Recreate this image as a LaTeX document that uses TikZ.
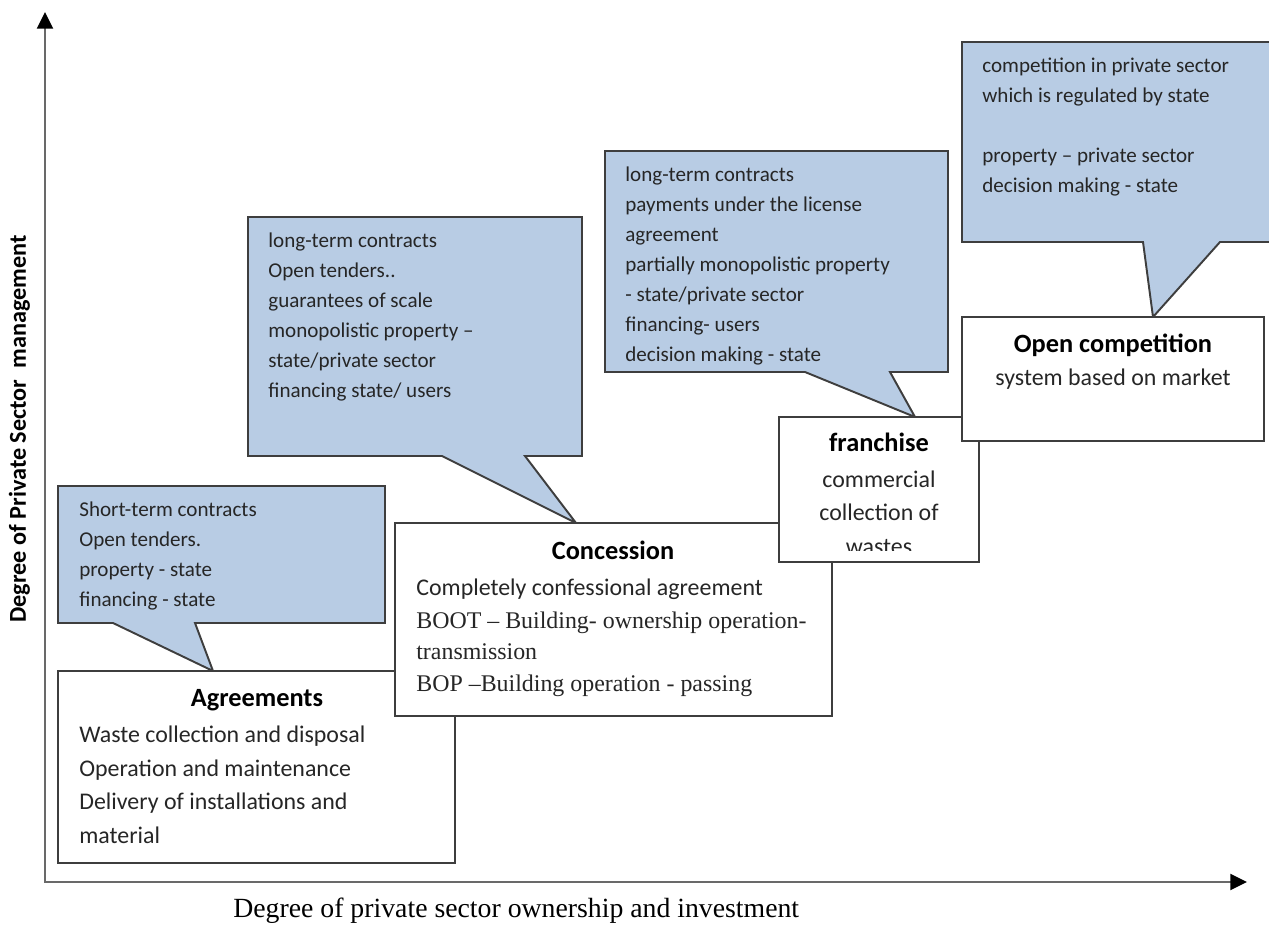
\documentclass[tikz,border=0pt]{standalone}
\usepackage{fontspec}
\setmainfont{Carlito}
\newfontfamily\serifface{Liberation Serif}
\usepackage{xcolor}
\usetikzlibrary{arrows.meta,fit}

\definecolor{calloutblue}{RGB}{184,204,228}
\definecolor{edgegray}{RGB}{62,62,62}
\definecolor{axisgray}{RGB}{105,105,105}

\tikzset{
  callout/.style={draw=edgegray, fill=calloutblue, line width=1.1pt},
  stagebox/.style={draw=edgegray, fill=white, line width=1.1pt, inner sep=0pt},
  note/.style={anchor=base west, inner sep=0pt, text=black!85, font=\fontsize{12}{14}\selectfont},
  body/.style={anchor=base west, inner sep=0pt, text=black!85, font=\fontsize{13.6}{16}\selectfont},
  bodyc/.style={body, anchor=base},
  title/.style={anchor=base, inner sep=0pt, font=\fontsize{15}{18}\selectfont\bfseries},
  axisline/.style={draw=axisgray, line width=1.6pt},
  axistip/.tip={Triangle[length=9.5pt,width=9pt,color=black]}
}

\begin{document}
\begin{tikzpicture}[x=0.02cm, y=-0.02cm]
\useasboundingbox (0,0) rectangle (1269,925);

\coordinate (org) at (45,882);
\coordinate (ytip) at (45,12);
\coordinate (xtip) at (1247,882);

% axes
\draw[axisline, axistip-axistip] (ytip) -- (org) -- (xtip);
\node[anchor=base west, inner sep=0pt, font=\serifface\fontsize{15.8}{18}\selectfont] (xlabel) at (233,918) {Degree of private sector ownership and investment};
\node[anchor=base, rotate=90, inner sep=0pt, font=\fontsize{13.8}{16}\selectfont\bfseries] (ylabel) at (26,429) {Degree of Private Sector\ \ management};

% agreements
\draw[callout] (58,486) -- (385,486) -- (385,623) -- (195,623) -- (213,671) -- (113,623) -- (58,623) -- cycle;
\foreach \txt [count=\i] in {Short-term contracts, Open tenders., property - state, financing - state}
  \node[note] (agrnote\i) at (79,{517+30*(\i-1)}) {\txt};

\node[stagebox, fit={(58,671) (455,863)}] (agr) {};
\node[title] (agrtitle) at (257,707) {Agreements};
\foreach \txt [count=\i] in {Waste collection and disposal, Operation and maintenance, Delivery of installations and, material}
  \node[body] (agrline\i) at (79,{743+33.5*(\i-1)}) {\txt};

% concession
\draw[callout] (248,217) -- (582,217) -- (582,456) -- (525,456) -- (576,523) -- (442,456) -- (248,456) -- cycle;
\foreach \txt [count=\i] in {long-term contracts, Open tenders.., guarantees of scale, monopolistic property –, state/private sector, financing state/ users}
  \node[note] (connote\i) at (268,{248+30*(\i-1)}) {\txt};

\node[stagebox, fit={(395,523) (832,716)}] (con) {};
\node[title] (contitle) at (613,560) {Concession};
\node[body] (conline1) at (416,596) {Completely confessional agreement};
\node[body, font=\serifface\fontsize{13.6}{16}\selectfont] (conline2) at (416,629) {BOOT – Building- ownership operation-};
\node[body, font=\serifface\fontsize{13.6}{16}\selectfont] (conline3) at (416,660) {transmission};
\node[body, font=\serifface\fontsize{13.6}{16}\selectfont] (conline4) at (416,692) {BOP –Building operation - passing};

% franchise
\draw[callout] (605,151) -- (948,151) -- (948,372) -- (890,372) -- (915,417) -- (805,372) -- (605,372) -- cycle;
\foreach \txt [count=\i] in {long-term contracts, payments under the license, agreement, partially monopolistic property, - state/private sector, financing- users, decision making - state}
  \node[note] (franote\i) at (625,{182+30*(\i-1)}) {\txt};

\node[stagebox, fit={(779,417) (979,562)}] (fra) {};
\node[title] (fratitle) at (879,452) {franchise};
\node[bodyc] (fraline1) at (879,488) {commercial};
\node[bodyc] (fraline2) at (879,521) {collection of};
\begin{scope}
  \clip (781,419) rectangle (977,551);
  \node[bodyc] (fraline3) at (879,555) {wastes};
\end{scope}

% open competition
\draw[callout] (962,42) -- (1280,42) -- (1280,242) -- (1220,242) -- (1153,317) -- (1143,242) -- (962,242) -- cycle;
\node[note] (opcnote1) at (982,73) {competition in private sector};
\node[note] (opcnote2) at (982,103) {which is regulated by state};
\node[note] (opcnote3) at (982,163) {property – private sector};
\node[note] (opcnote4) at (982,193) {decision making - state};

\node[stagebox, fit={(962,317) (1264,441)}] (opc) {};
\node[title] (opctitle) at (1113,353) {Open competition};
\node[bodyc] (opcline1) at (1113,386) {system based on market};
\end{tikzpicture}
\end{document}
